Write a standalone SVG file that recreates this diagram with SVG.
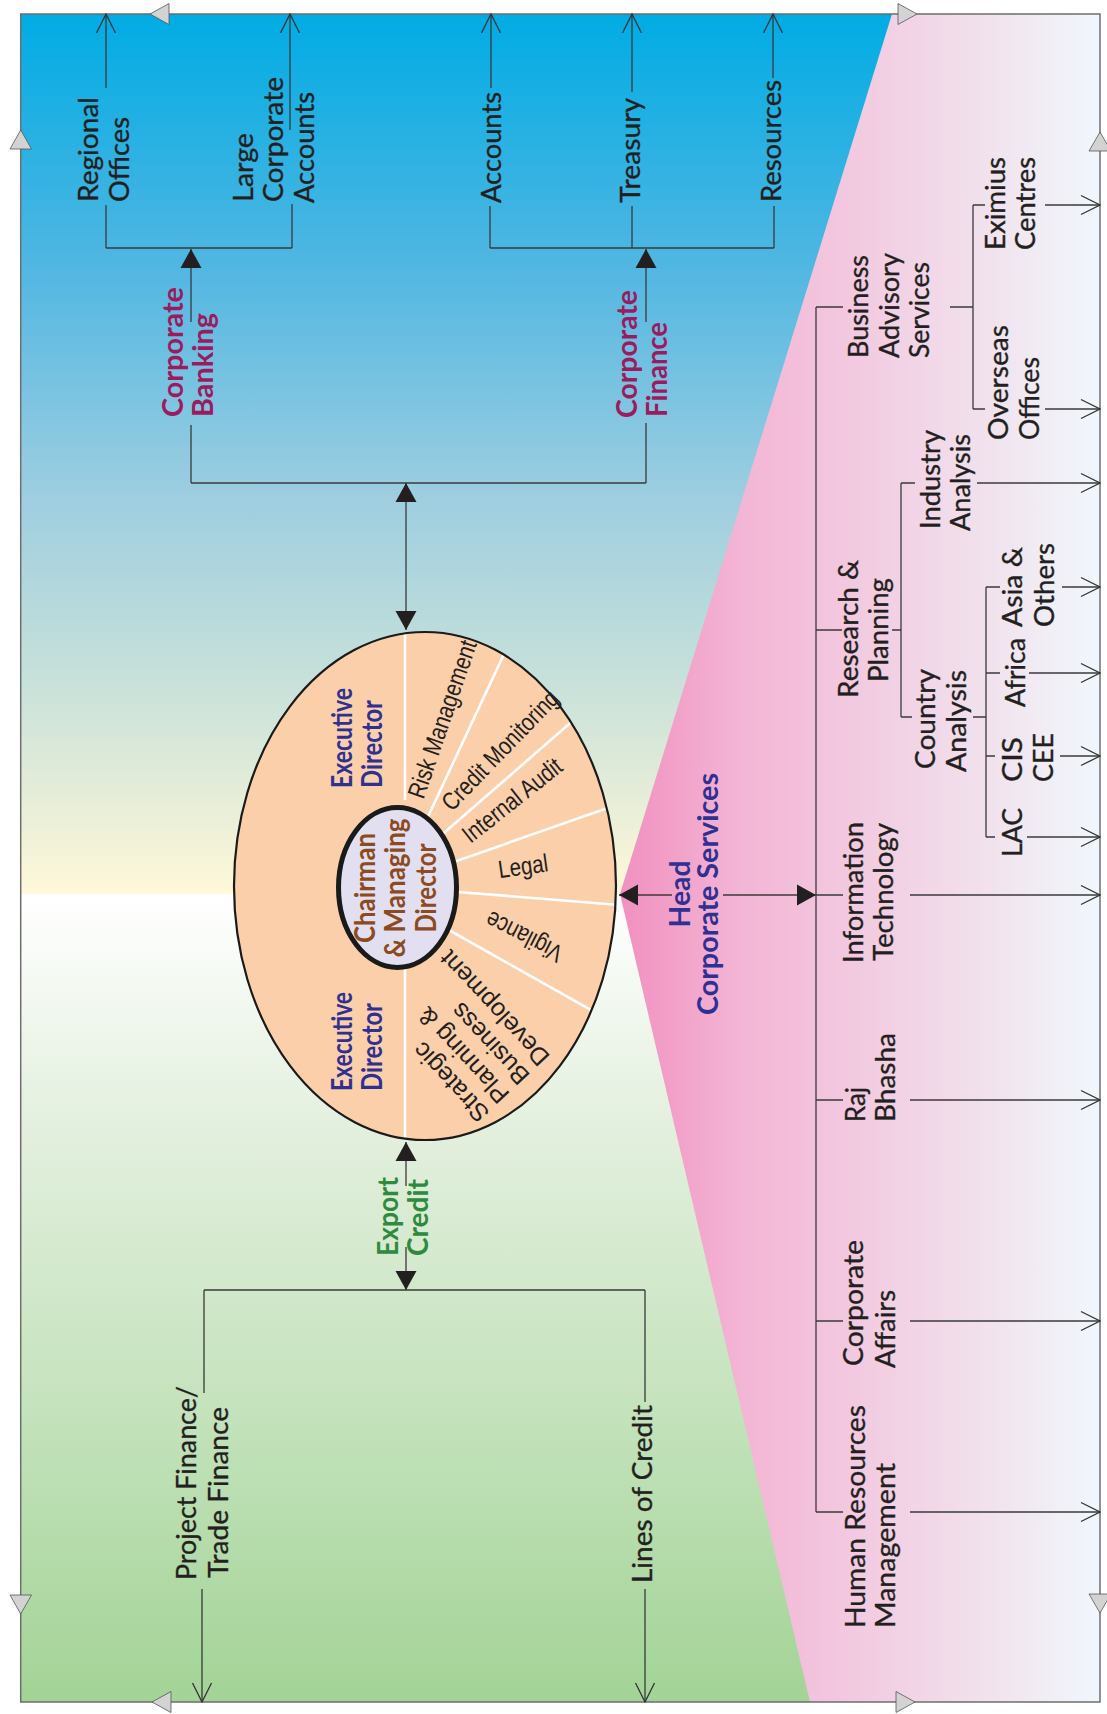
<svg xmlns="http://www.w3.org/2000/svg" width="1107" height="1714" viewBox="0 0 1107 1714">
<defs>
<linearGradient id="gTop" gradientUnits="userSpaceOnUse" x1="0" y1="14" x2="0" y2="894">
<stop offset="0" stop-color="#00ACE4"/><stop offset="0.28" stop-color="#4FB6E2"/><stop offset="0.55" stop-color="#9ECEE0"/><stop offset="0.75" stop-color="#C6E0DA"/><stop offset="0.9" stop-color="#E8EED8"/><stop offset="1" stop-color="#FFF8D9"/>
</linearGradient>
<linearGradient id="gBot" gradientUnits="userSpaceOnUse" x1="0" y1="894" x2="0" y2="1702">
<stop offset="0" stop-color="#FFFFFF"/><stop offset="0.3" stop-color="#E2EFDD"/><stop offset="0.65" stop-color="#C3E2BB"/><stop offset="1" stop-color="#A3D396"/>
</linearGradient>
<linearGradient id="gPink" gradientUnits="userSpaceOnUse" x1="620" y1="0" x2="1100" y2="0">
<stop offset="0" stop-color="#F190BF"/><stop offset="0.25" stop-color="#F3B5D5"/><stop offset="0.55" stop-color="#F2CFE3"/><stop offset="0.8" stop-color="#F1E5EF"/><stop offset="1" stop-color="#F1F7FD"/>
</linearGradient>
<marker id="open" viewBox="-21 -11 22 22" refX="0" refY="0" markerWidth="22" markerHeight="22" markerUnits="userSpaceOnUse" orient="auto">
<path d="M-19,-9.5 L0,0 L-19,9.5" fill="none" stroke="#333" stroke-width="1.3"/>
</marker>
<marker id="solid" viewBox="-20 -11 21 22" refX="0" refY="0" markerWidth="21" markerHeight="22" markerUnits="userSpaceOnUse" orient="auto-start-reverse">
<path d="M-19,-10.5 L0,0 L-19,10.5 Z" fill="#231F20"/>
</marker>
<clipPath id="clipOuter"><ellipse cx="425" cy="886" rx="191" ry="254"/></clipPath>
<style>
.t{font-family:Lato,"Liberation Sans",sans-serif;font-size:27px;fill:#231F20;stroke:#231F20;stroke-width:0.35}
.b{font-family:Lato,"Liberation Sans",sans-serif;font-weight:bold;font-size:28px}
.mag{fill:#9C1B5F}
.grn{fill:#2F8A3E}
.blu{fill:#2E3192}
.brn{fill:#8C4A1E}
.seg{font-family:"Liberation Sans",Arial,sans-serif;font-size:25px;fill:#231F20}
.ln{fill:none;stroke:#3A3A3A;stroke-width:1.3}
.tri{fill:#D3D3D3;stroke:#555;stroke-width:0.8}
.wl{stroke:#FFFFFF;stroke-width:2.6}
</style>
</defs>
<rect x="0" y="0" width="1107" height="1714" fill="#FFFFFF"/>
<g id="background">
<rect x="20.7" y="14" width="1079.3" height="880" fill="url(#gTop)"/>
<rect x="20.7" y="894" width="1079.3" height="808" fill="url(#gBot)"/>
<polygon points="892,14 620,894 810,1702 1100,1702 1100,14" fill="url(#gPink)"/>
<rect x="20.7" y="14" width="1079.3" height="1688" fill="none" stroke="#6E6E6E" stroke-width="1.5"/>
<polygon class="tri" points="150,14 169,3.5 169,24.5"/>
<polygon class="tri" points="917,14 898,3.5 898,24.5"/>
<polygon class="tri" points="20.7,130 10,149 31.5,149"/>
<polygon class="tri" points="1100,132 1089,151 1111,151"/>
<polygon class="tri" points="20.7,1614 10,1595 31.5,1595"/>
<polygon class="tri" points="1100,1613 1089,1594 1111,1594"/>
<polygon class="tri" points="152,1702 171,1691.5 171,1712.5"/>
<polygon class="tri" points="915,1702 896,1691.5 896,1712.5"/>
</g>
<g id="connectors" class="ln">
<path d="M106,248 H292 M106,248 V205 M292,248 V204"/>
<path d="M106,88 V14" marker-end="url(#open)"/>
<path d="M290,130 V14" marker-end="url(#open)"/>
<path d="M191,483 H646 M191,483 V425 M646,483 V423"/>
<path d="M191,322 V249" marker-end="url(#solid)"/>
<path d="M646,322 V249" marker-end="url(#solid)"/>
<path d="M490,248 H774 M490,248 V206 M632,248 V206 M774,248 V206"/>
<path d="M491,88 V14" marker-end="url(#open)"/>
<path d="M632,92 V14" marker-end="url(#open)"/>
<path d="M773,78 V14" marker-end="url(#open)"/>
<path d="M406,483 V630" marker-start="url(#solid)" marker-end="url(#solid)"/>
<path d="M406,1186 V1142" marker-end="url(#solid)"/>
<path d="M406,1247 V1290" marker-end="url(#solid)"/>
<path d="M204,1290 H645 M204,1290 V1393 M645,1290 V1402"/>
<path d="M202,1589 V1702" marker-end="url(#open)"/>
<path d="M645,1589 V1702" marker-end="url(#open)"/>
<path d="M672,895 H619" marker-end="url(#solid)"/>
<path d="M723,895 H816" marker-end="url(#solid)"/>
<path d="M816,307 V1512"/>
<path d="M816,307 H843 M950,307 H973 M973,205 V409 M973,205 H985 M973,409 H985"/>
<path d="M1045,205 H1100" marker-end="url(#open)"/>
<path d="M1045,409 H1100" marker-end="url(#open)"/>
<path d="M816,630 H842 M892,630 H901 M901,483 V717 M901,483 H915 M901,717 H912 M973,717 H986 M986,587 V837 M986,587 H1000 M986,673 H1000 M986,756 H995 M986,837 H995"/>
<path d="M977,483 H1100" marker-end="url(#open)"/>
<path d="M1062,587 H1100" marker-end="url(#open)"/>
<path d="M1029,673 H1100" marker-end="url(#open)"/>
<path d="M1060,756 H1100" marker-end="url(#open)"/>
<path d="M1027,837 H1100" marker-end="url(#open)"/>
<path d="M816,895 H843 M816,1100 H843 M816,1321 H843 M816,1512 H843"/>
<path d="M910,895 H1100" marker-end="url(#open)"/>
<path d="M910,1100 H1100" marker-end="url(#open)"/>
<path d="M910,1321 H1100" marker-end="url(#open)"/>
<path d="M910,1512 H1100" marker-end="url(#open)"/>
</g>
<g id="hub">
<ellipse cx="425" cy="886" rx="191" ry="254" fill="#FBCFAA"/>
<g clip-path="url(#clipOuter)" class="wl">
<line x1="405" y1="800" x2="405" y2="620"/>
<line x1="426" y1="821" x2="511" y2="639"/>
<line x1="437" y1="839" x2="584" y2="711"/>
<line x1="448" y1="864" x2="625" y2="802"/>
<line x1="446" y1="891" x2="632" y2="906"/>
<line x1="440" y1="925" x2="605" y2="1018"/>
<line x1="405" y1="960" x2="405" y2="1150"/>
</g>
<ellipse cx="425" cy="886" rx="191" ry="254" fill="none" stroke="#1A1A1A" stroke-width="2.2"/>
</g>
<g id="cmd">
<ellipse cx="397.5" cy="887.5" rx="59" ry="80" fill="#E1DFF0" stroke="#1A1A1A" stroke-width="5"/>
<text class="b brn" font-size="27" text-anchor="middle" transform="translate(375,888) rotate(-90)" textLength="110" lengthAdjust="spacingAndGlyphs">Chairman</text>
<text class="b brn" font-size="27" text-anchor="middle" transform="translate(405,888) rotate(-90)" textLength="139" lengthAdjust="spacingAndGlyphs">&amp; Managing</text>
<text class="b brn" font-size="27" text-anchor="middle" transform="translate(436,888) rotate(-90)" textLength="89" lengthAdjust="spacingAndGlyphs">Director</text>
</g>
<g id="ed-top">
<text class="b blu" font-size="25" transform="translate(352,788) rotate(-90)" textLength="100" lengthAdjust="spacingAndGlyphs">Executive</text>
<text class="b blu" font-size="25" transform="translate(382,788) rotate(-90)" textLength="88" lengthAdjust="spacingAndGlyphs">Director</text>
</g>
<g id="ed-bottom">
<text class="b blu" font-size="25" transform="translate(352,1091) rotate(-90)" textLength="99" lengthAdjust="spacingAndGlyphs">Executive</text>
<text class="b blu" font-size="25" transform="translate(382,1091) rotate(-90)" textLength="88" lengthAdjust="spacingAndGlyphs">Director</text>
</g>
<g id="seg-risk"><text class="seg" text-anchor="middle" dominant-baseline="central" transform="translate(442,719) rotate(-71) scale(0.82,1)">Risk Management</text></g>
<g id="seg-credit"><text class="seg" text-anchor="middle" dominant-baseline="central" transform="translate(500,750) rotate(-46) scale(0.82,1)">Credit Monitoring</text></g>
<g id="seg-audit"><text class="seg" text-anchor="middle" dominant-baseline="central" transform="translate(512,800) rotate(-38.5) scale(0.82,1)">Internal Audit</text></g>
<g id="seg-legal"><text class="seg" text-anchor="middle" dominant-baseline="central" transform="translate(523,866) rotate(-8) scale(0.82,1)">Legal</text></g>
<g id="seg-vigilance"><text class="seg" text-anchor="middle" dominant-baseline="central" transform="translate(524,937) rotate(207) scale(0.82,1)">Vigilance</text></g>
<g id="seg-strategic" transform="translate(478,1112) rotate(-133)">
<text class="seg" font-size="24" x="-9" y="0" dominant-baseline="central">Strategic</text>
<text class="seg" font-size="24" x="-9" y="27.5" dominant-baseline="central">Planning &amp;</text>
<text class="seg" font-size="24" x="-9" y="55" dominant-baseline="central">Business</text>
<text class="seg" font-size="24" x="-9" y="82.5" dominant-baseline="central">Development</text>
</g>
<g id="corporate-banking">
<text class="b mag" font-size="29" transform="translate(183,417) rotate(-90)" textLength="130" lengthAdjust="spacingAndGlyphs">Corporate</text>
<text class="b mag" font-size="29" transform="translate(213,417) rotate(-90)" textLength="104" lengthAdjust="spacingAndGlyphs">Banking</text>
</g>
<g id="corporate-finance">
<text class="b mag" font-size="29" transform="translate(637,418) rotate(-90)" textLength="128" lengthAdjust="spacingAndGlyphs">Corporate</text>
<text class="b mag" font-size="29" transform="translate(667,417) rotate(-90)" textLength="95" lengthAdjust="spacingAndGlyphs">Finance</text>
</g>
<g id="regional-offices">
<text class="t" transform="translate(98,202) rotate(-90)" textLength="105" lengthAdjust="spacingAndGlyphs">Regional</text>
<text class="t" transform="translate(129,202) rotate(-90)" textLength="85" lengthAdjust="spacingAndGlyphs">Offices</text>
</g>
<g id="large-corporate-accounts">
<text class="t" transform="translate(253,202) rotate(-90)" textLength="69" lengthAdjust="spacingAndGlyphs">Large</text>
<text class="t" transform="translate(283,202) rotate(-90)" textLength="125" lengthAdjust="spacingAndGlyphs">Corporate</text>
<text class="t" transform="translate(314,203) rotate(-90)" textLength="111" lengthAdjust="spacingAndGlyphs">Accounts</text>
</g>
<g id="accounts"><text class="t" transform="translate(501,203) rotate(-90)" textLength="111" lengthAdjust="spacingAndGlyphs">Accounts</text></g>
<g id="treasury"><text class="t" transform="translate(640,203) rotate(-90)" textLength="105" lengthAdjust="spacingAndGlyphs">Treasury</text></g>
<g id="resources"><text class="t" transform="translate(781,202) rotate(-90)" textLength="122" lengthAdjust="spacingAndGlyphs">Resources</text></g>
<g id="export-credit">
<text class="b grn" font-size="27" transform="translate(398,1256) rotate(-90)" textLength="79" lengthAdjust="spacingAndGlyphs">Export</text>
<text class="b grn" font-size="27" transform="translate(428,1256) rotate(-90)" textLength="77" lengthAdjust="spacingAndGlyphs">Credit</text>
</g>
<g id="project-trade-finance">
<text class="t" transform="translate(196,1580) rotate(-90)" textLength="194" lengthAdjust="spacingAndGlyphs">Project Finance/</text>
<text class="t" transform="translate(228,1578) rotate(-90)" textLength="171" lengthAdjust="spacingAndGlyphs">Trade Finance</text>
</g>
<g id="lines-of-credit"><text class="t" transform="translate(652,1583) rotate(-90)" textLength="178" lengthAdjust="spacingAndGlyphs">Lines of Credit</text></g>
<g id="head-corporate-services">
<text class="b blu" text-anchor="middle" transform="translate(690,894) rotate(-90)" textLength="67" lengthAdjust="spacingAndGlyphs">Head</text>
<text class="b blu" text-anchor="middle" transform="translate(718,894) rotate(-90)" textLength="242" lengthAdjust="spacingAndGlyphs">Corporate Services</text>
</g>
<g id="business-advisory-services">
<text class="t" transform="translate(868,358) rotate(-90)" textLength="103" lengthAdjust="spacingAndGlyphs">Business</text>
<text class="t" transform="translate(899,358) rotate(-90)" textLength="105" lengthAdjust="spacingAndGlyphs">Advisory</text>
<text class="t" transform="translate(929,358) rotate(-90)" textLength="96" lengthAdjust="spacingAndGlyphs">Services</text>
</g>
<g id="eximius-centres">
<text class="t" transform="translate(1005,250) rotate(-90)" textLength="93" lengthAdjust="spacingAndGlyphs">Eximius</text>
<text class="t" transform="translate(1035,250) rotate(-90)" textLength="93" lengthAdjust="spacingAndGlyphs">Centres</text>
</g>
<g id="overseas-offices">
<text class="t" transform="translate(1008,440) rotate(-90)" textLength="115" lengthAdjust="spacingAndGlyphs">Overseas</text>
<text class="t" transform="translate(1039,440) rotate(-90)" textLength="83" lengthAdjust="spacingAndGlyphs">Offices</text>
</g>
<g id="research-planning">
<text class="t" transform="translate(858,698) rotate(-90)" textLength="138" lengthAdjust="spacingAndGlyphs">Research &amp;</text>
<text class="t" transform="translate(888,682) rotate(-90)" textLength="104" lengthAdjust="spacingAndGlyphs">Planning</text>
</g>
<g id="industry-analysis">
<text class="t" transform="translate(940,529) rotate(-90)" textLength="99" lengthAdjust="spacingAndGlyphs">Industry</text>
<text class="t" transform="translate(970,531) rotate(-90)" textLength="97" lengthAdjust="spacingAndGlyphs">Analysis</text>
</g>
<g id="country-analysis">
<text class="t" transform="translate(935,769) rotate(-90)" textLength="100" lengthAdjust="spacingAndGlyphs">Country</text>
<text class="t" transform="translate(966,772) rotate(-90)" textLength="102" lengthAdjust="spacingAndGlyphs">Analysis</text>
</g>
<g id="asia-others">
<text class="t" transform="translate(1022,627) rotate(-90)" textLength="80" lengthAdjust="spacingAndGlyphs">Asia &amp;</text>
<text class="t" transform="translate(1054,627) rotate(-90)" textLength="84" lengthAdjust="spacingAndGlyphs">Others</text>
</g>
<g id="africa"><text class="t" transform="translate(1025,707) rotate(-90)" textLength="69" lengthAdjust="spacingAndGlyphs">Africa</text></g>
<g id="cis-cee">
<text class="t" transform="translate(1022,782) rotate(-90)" textLength="45" lengthAdjust="spacingAndGlyphs">CIS</text>
<text class="t" transform="translate(1053,782) rotate(-90)" textLength="49" lengthAdjust="spacingAndGlyphs">CEE</text>
</g>
<g id="lac"><text class="t" transform="translate(1022,857) rotate(-90)" textLength="49" lengthAdjust="spacingAndGlyphs">LAC</text></g>
<g id="information-technology">
<text class="t" transform="translate(863,963) rotate(-90)" textLength="141" lengthAdjust="spacingAndGlyphs">Information</text>
<text class="t" transform="translate(893,961) rotate(-90)" textLength="138" lengthAdjust="spacingAndGlyphs">Technology</text>
</g>
<g id="raj-bhasha">
<text class="t" transform="translate(865,1122) rotate(-90)" textLength="35" lengthAdjust="spacingAndGlyphs">Raj</text>
<text class="t" transform="translate(895,1122) rotate(-90)" textLength="89" lengthAdjust="spacingAndGlyphs">Bhasha</text>
</g>
<g id="corporate-affairs">
<text class="t" transform="translate(863,1366) rotate(-90)" textLength="126" lengthAdjust="spacingAndGlyphs">Corporate</text>
<text class="t" transform="translate(895,1368) rotate(-90)" textLength="78" lengthAdjust="spacingAndGlyphs">Affairs</text>
</g>
<g id="human-resources-management">
<text class="t" transform="translate(865,1628) rotate(-90)" textLength="223" lengthAdjust="spacingAndGlyphs">Human Resources</text>
<text class="t" transform="translate(895,1628) rotate(-90)" textLength="165" lengthAdjust="spacingAndGlyphs">Management</text>
</g>
</svg>
